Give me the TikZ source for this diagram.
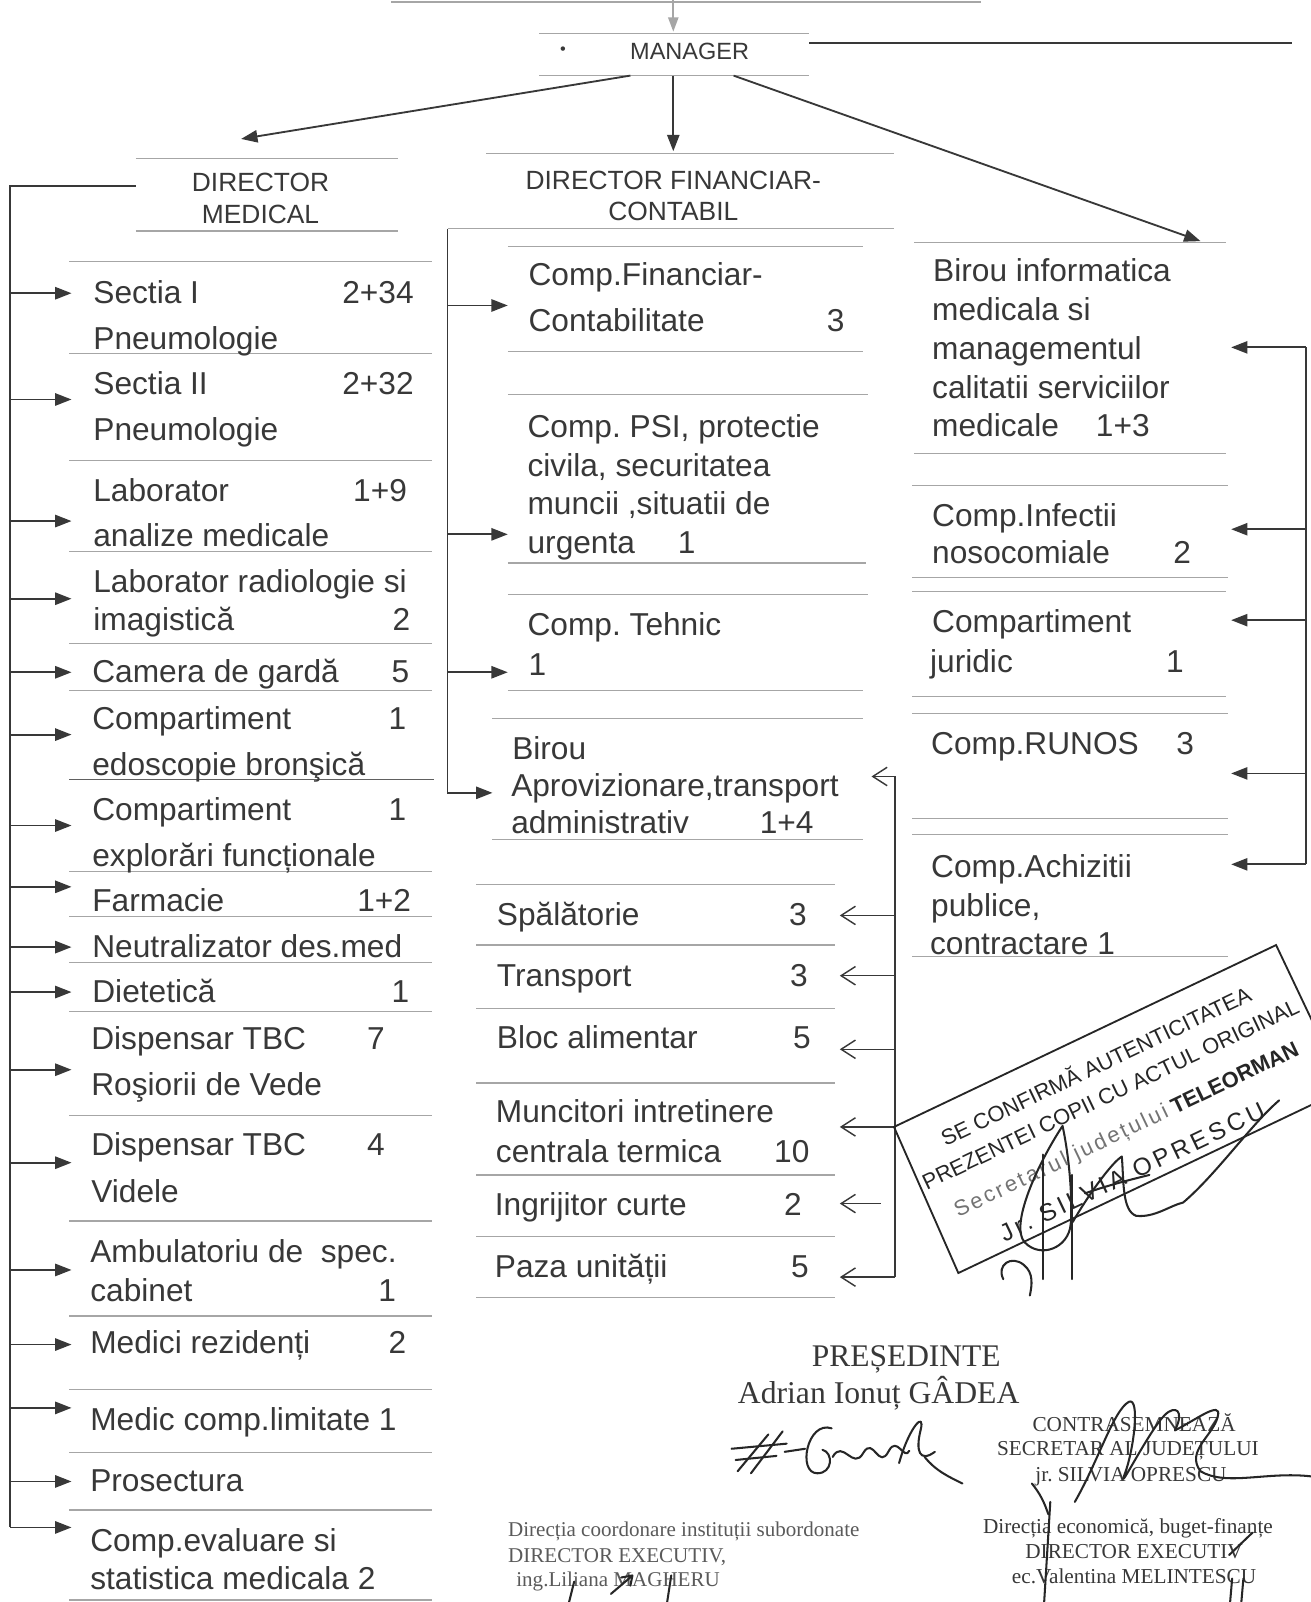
\documentclass[tikz,border=0pt]{standalone}
\usepackage{fontspec}
\setmainfont{Liberation Sans}
\newfontfamily\seriff{Liberation Serif}
\usetikzlibrary{arrows.meta}
\definecolor{ink}{HTML}{383838}
\definecolor{rule}{HTML}{A6A6A6}
\definecolor{faint}{HTML}{5A5A5A}
\newcommand\tl[4]{\node[txt] (#1) at (#2,#3) {#4};}
\newcommand\nm[4]{\node[num] (#1) at (#2,#3) {#4};}
\frenchspacing
\begin{document}
\begin{tikzpicture}[x=0.5pt,y=-0.5pt,
  txt/.style={anchor=base west,inner sep=0pt,text=ink,font=\fontsize{15.5}{18}\selectfont},
  num/.style={anchor=base,inner sep=0pt,text=ink,font=\fontsize{15.5}{18}\selectfont},
  hdr/.style={anchor=base,inner sep=0pt,text=ink,font=\fontsize{12.9}{15}\selectfont},
  sep/.style={draw=rule,line width=0.6pt},
  arr/.style={draw=ink,line width=0.9pt,-{Triangle[length=8pt,width=6pt]}},
  oarr/.style={draw=ink,line width=0.7pt,-{Straight Barb[length=7pt,width=9pt]}},
  bus/.style={draw=ink,line width=0.9pt},
  pen/.style={draw=black!85,line width=1pt,line cap=round,line join=round},
  ser/.style={anchor=base,inner sep=0pt,text=ink,font=\seriff\fontsize{10.4}{12}\selectfont},
  sml/.style={anchor=base west,inner sep=0pt,text=faint,font=\seriff\fontsize{10.3}{12}\selectfont},
  stmp/.style={inner sep=0pt,text=black!85,rotate=25.5,font=\fontsize{10.7}{12}\selectfont},
]
\useasboundingbox[fill=white] (0,0) rectangle (1283,1568);

% ---------- top ----------
\draw[rule,line width=0.8pt] (383,2) -- (960,2);
\coordinate (topA) at (659,0);
\coordinate (mgT) at (659,31);
\draw[draw=rule,line width=0.9pt,-{Triangle[length=7pt,width=5pt]},fill=rule] (topA) -- (mgT);
\draw[sep] (528,33) -- (792,33);
\draw[sep] (528,74) -- (792,74);
\node[inner sep=0pt,text=ink,font=\fontsize{8}{9}\selectfont] (bul) at (551,50) {\textbullet};
\node[hdr,font=\fontsize{11.5}{13}\selectfont] (mgr) at (675,58) {MANAGER};
\coordinate (mgR) at (792,42);
\coordinate (mgRend) at (1265,42);
\draw[ink,line width=1pt] (mgR) -- (mgRend);

% ---------- headers ----------
\draw[sep] (133,155) -- (390,155);
\draw[sep] (133,226) -- (390,226);
\node[hdr] (dm1) at (255,187) {DIRECTOR};
\node[hdr] (dm2) at (255,219) {MEDICAL};
\draw[sep] (476,150) -- (875,150);
\draw[sep] (438,224) -- (875,224);
\node[hdr] (df1) at (659,185) {DIRECTOR FINANCIAR-};
\node[hdr] (df2) at (659,216) {CONTABIL};

\coordinate (mg1) at (617,74);  \coordinate (dmT) at (236,136);
\coordinate (mg2) at (659,74);  \coordinate (dfT) at (659,148);
\coordinate (mg3) at (718,74);  \coordinate (biT) at (1175,236);
\draw[arr] (mg1) -- (dmT);
\draw[arr] (mg2) -- (dfT);
\draw[arr] (mg3) -- (biT);

% ---------- left column separators ----------
\foreach \yy in {256,346,451,540,630,676,853,897,942,990,1092,1195,1288,1360,1422,1478,1566}
  \draw[sep] (68,\yy) -- (423,\yy);
\draw[draw=ink!80,line width=0.7pt] (68,763) -- (425,763);

% left bus + arrows
\coordinate (dmL) at (133,182);
\coordinate (lcorner) at (10,182);
\foreach \n/\yy in {1/287,2/391,3/510,4/586,5/658,6/719,7/808,8/868,9/927,10/971,11/1047,12/1138,13/1243,14/1316,15/1378,16/1450,17/1495}{
  \coordinate (lbus\n) at (10,\yy);
  \coordinate (ltip\n) at (70,\yy);
  \draw[arr] (lbus\n) -- (ltip\n);
}
\draw[bus] (dmL) -- (lcorner) -- (lbus17);

% left texts
\tl{a1}{91}{297}{Sectia I}            \nm{a1n}{370}{297}{2+34}
\tl{a2}{91}{342}{Pneumologie}
\tl{b1}{91}{386}{Sectia II}           \nm{b1n}{370}{386}{2+32}
\tl{b2}{91}{431}{Pneumologie}
\tl{c1}{91}{491}{Laborator}           \nm{c1n}{372}{491}{1+9}
\tl{c2}{91}{535}{analize medicale}
\tl{d1}{91}{580}{Laborator radiologie si}
\tl{d2}{91}{617}{imagistică}          \nm{d2n}{393}{617}{2}
\tl{e1}{90}{668}{Camera de gardă}     \nm{e1n}{392}{668}{5}
\tl{f1}{90}{714}{Compartiment}        \nm{f1n}{389}{714}{1}
\tl{f2}{90}{759}{edoscopie bronşică}
\tl{g1}{90}{803}{Compartiment}        \nm{g1n}{389}{803}{1}
\tl{g2}{90}{848}{explorări funcționale}
\tl{h1}{90}{892}{Farmacie}            \nm{h1n}{376}{892}{1+2}
\tl{i1}{90}{937}{Neutralizator des.med}
\tl{j1}{90}{981}{Dietetică}           \nm{j1n}{392}{981}{1}
\tl{k1}{89}{1027}{Dispensar TBC}      \nm{k1n}{368}{1027}{7}
\tl{k2}{89}{1072}{Roşiorii de Vede}
\tl{m1}{89}{1131}{Dispensar TBC}      \nm{m1n}{368}{1131}{4}
\tl{m2}{89}{1177}{Videle}
\tl{n1}{88}{1236}{Ambulatoriu de\ \ spec.}
\tl{n2}{88}{1274}{cabinet}            \nm{n2n}{379}{1274}{1}
\tl{o1}{88}{1325}{Medici rezidenți}   \nm{o1n}{389}{1325}{2}
\tl{p1}{88}{1400}{Medic comp.limitate 1}
\tl{q1}{88}{1460}{Prosectura}
\tl{r1}{88}{1519}{Comp.evaluare si}
\tl{r2}{88}{1556}{statistica medicala 2}

% ---------- middle column ----------
\draw[sep] (497,241) -- (845,241);
\draw[sep] (497,344) -- (845,344);
\draw[sep] (497,386) -- (850,386);
\draw[sep] (497,551) -- (848,551);
\draw[sep] (497,582) -- (850,582);
\draw[sep] (497,676) -- (845,676);
\draw[sep] (482,703) -- (845,703);
\draw[sep] (482,822) -- (845,822);
\foreach \yy in {866,925,987,1060,1150,1210,1270}
  \draw[sep] (466,\yy) -- (817,\yy);

\coordinate (mtop) at (438,224);
\coordinate (mtip1) at (497,299);
\coordinate (mtip2) at (497,523);
\coordinate (mtip3) at (497,658);
\coordinate (mtip4) at (482,776);
\draw[arr] (mtop) |- (mtip4);
\draw[arr] (mtop |- mtip1) -- (mtip1);
\draw[arr] (mtop |- mtip2) -- (mtip2);
\draw[arr] (mtop |- mtip3) -- (mtip3);

\tl{s1}{517}{279}{Comp.Financiar-}
\tl{s2}{517}{324}{Contabilitate}      \nm{s2n}{818}{324}{3}
\tl{t1}{516}{428}{Comp. PSI, protectie}
\tl{t2}{516}{466}{civila, securitatea}
\tl{t3}{516}{504}{muncii ,situatii de}
\tl{t4}{516}{542}{urgenta}            \nm{t4n}{672}{542}{1}
\tl{u1}{516}{622}{Comp. Tehnic}
\tl{u2}{517}{661}{1}
\tl{v1}{501}{743}{Birou}
\tl{v2}{500}{780}{Aprovizionare,transport}
\tl{v3}{500}{816}{administrativ}      \nm{v3n}{770}{816}{1+4}
\tl{w1}{486}{906}{Spălătorie}         \nm{w1n}{781}{906}{3}
\tl{w2}{486}{966}{Transport}          \nm{w2n}{782}{966}{3}
\tl{w3}{486}{1026}{Bloc alimentar}    \nm{w3n}{785}{1026}{5}
\tl{w4}{485}{1099}{Muncitori intretinere}
\tl{w5}{485}{1138}{centrala termica}  \nm{w5n}{775}{1138}{10}
\tl{w6}{484}{1190}{Ingrijitor curte}  \nm{w6n}{776}{1190}{2}
\tl{w7}{484}{1250}{Paza unității}     \nm{w7n}{783}{1250}{5}

% services bracket
\coordinate (sb0) at (876,760);   \coordinate (st0) at (853,760);
\coordinate (sb1) at (876,896);   \coordinate (st1) at (822,896);
\coordinate (sb2) at (876,955);   \coordinate (st2) at (822,955);
\coordinate (sb3) at (876,1027);  \coordinate (st3) at (822,1027);
\coordinate (sb4) at (876,1103);  \coordinate (st4) at (822,1103);
\coordinate (sb5) at (862,1178);  \coordinate (st5) at (822,1178);
\coordinate (sb6) at (876,1250);  \coordinate (st6) at (822,1250);
\draw[bus] (sb0) -- (sb6);
\foreach \n in {0,...,6} \draw[oarr] (sb\n) -- (st\n);

% ---------- right column ----------
\draw[sep] (895,237) -- (1200,237);
\draw[sep] (895,444) -- (1200,444);
\draw[sep] (893,475) -- (1202,475);
\draw[sep] (893,565) -- (1202,565);
\draw[sep] (893,579) -- (1200,579);
\draw[sep] (893,682) -- (1200,682);
\draw[sep] (893,698) -- (1202,698);
\draw[sep] (893,801) -- (1202,801);
\draw[sep] (893,817) -- (1202,817);
\draw[sep] (893,936) -- (1202,936);

\foreach \n/\yy in {1/340,2/518,3/607,4/757,5/846}{
  \coordinate (rb\n) at (1278,\yy);
  \coordinate (rt\n) at (1205,\yy);
  \draw[arr] (rb\n) -- (rt\n);
}
\draw[bus] (rb1) -- (rb5);

\tl{x1}{913}{276}{Birou informatica}
\tl{x2}{912}{314}{medicala si}
\tl{x3}{912}{352}{managementul}
\tl{x4}{912}{390}{calitatii serviciilor}
\tl{x5}{912}{427}{medicale}           \nm{x5n}{1099}{427}{1+3}
\tl{y1}{912}{515}{Comp.Infectii}
\tl{y2}{912}{552}{nosocomiale}        \nm{y2n}{1157}{552}{2}
\tl{z1}{912}{619}{Compartiment}
\tl{z2}{910}{658}{juridic}            \nm{z2n}{1150}{658}{1}
\tl{q2}{911}{738}{Comp.RUNOS}         \nm{q2n}{1160}{738}{3}
\tl{h2}{911}{859}{Comp.Achizitii}
\tl{h3}{911}{897}{publice,}
\tl{h4}{910}{934}{contractare 1}

% ---------- stamp ----------
\draw[black!85,line width=0.9pt] (875,1103) -- (1249,925) -- (1316,1066) -- (938,1246) -- cycle;
\node[stmp] (st1t) at (1072,1042) {SE CONFIRMĂ AUTENTICITATEA};
\node[stmp] (st2t) at (1087,1071) {PREZENTEI COPII CU ACTUL ORIGINAL};
\node[stmp] (st3t) at (1103,1107) {{\addfontfeature{LetterSpace=12}\color{black!55}Secretarul județului} \textbf{TELEORMAN}};
\node[stmp,font=\fontsize{12}{13}\selectfont] (st4t) at (1108,1147) {\addfontfeature{LetterSpace=15}Jr. SILVIA OPRESCU};

% stamp signature
\draw[pen] (1040,1102) .. controls (1015,1140) and (988,1200) .. (1003,1216) .. controls (1018,1232) and (1046,1222) .. (1048,1198) .. controls (1050,1170) and (1046,1130) .. (1040,1102);
\draw[pen] (1021,1130) -- (1021,1252);
\draw[pen] (1049,1150) -- (1049,1252);
\draw[pen] (1050,1196) .. controls (1065,1170) and (1088,1138) .. (1098,1132) .. controls (1100,1155) and (1098,1185) .. (1112,1190) .. controls (1130,1192) and (1145,1180) .. (1158,1177) .. controls (1190,1150) and (1225,1100) .. (1252,1077);
\draw[pen] (1062,1168) .. controls (1085,1160) and (1105,1155) .. (1125,1150);
\draw[pen] (982,1252) .. controls (975,1238) and (990,1228) .. (1002,1238) .. controls (1012,1246) and (1010,1258) .. (1008,1268);

% ---------- signatures block ----------
\node[ser,font=\seriff\fontsize{15.4}{17}\selectfont] (pres) at (887,1337) {PREȘEDINTE};
\node[ser,font=\seriff\fontsize{15.5}{17}\selectfont] (presn) at (860,1374) {Adrian Ionuț GÂDEA};
\node[ser] (cs1) at (1110,1401) {CONTRASEMNEAZĂ};
\node[ser] (cs2) at (1104,1425) {SECRETAR AL JUDEȚULUI};
\node[ser] (cs3) at (1107,1450) {jr. SILVIA OPRESCU};
\node[ser] (de1) at (1104,1501) {Direcția economică, buget-finanțe};
\node[ser] (de2) at (1110,1525) {DIRECTOR EXECUTIV};
\node[ser] (de3) at (1110,1550) {ec.Valentina MELINTESCU};
\node[sml] (dc1) at (497,1504) {Direcția coordonare instituții subordonate};
\node[sml] (dc2) at (497,1529) {DIRECTOR EXECUTIV,};
\node[sml] (dc3) at (505,1553) {ing.Liliana MAGHERU};

% president signature
\draw[pen] (722,1440) -- (752,1404);
\draw[pen] (735,1442) -- (766,1401);
\draw[pen] (716,1418) -- (770,1413);
\draw[pen] (720,1429) -- (760,1425);
\draw[pen] (768,1421) -- (788,1418);
\draw[pen] (814,1398) .. controls (790,1390) and (780,1442) .. (800,1442) .. controls (815,1442) and (816,1422) .. (805,1419);
\draw[pen] (815,1426) .. controls (825,1408) and (835,1440) .. (845,1422) .. controls (855,1405) and (860,1440) .. (870,1420) .. controls (878,1405) and (885,1430) .. (890,1420);
\draw[pen] (880,1432) .. controls (890,1396) and (906,1380) .. (901,1400) .. controls (896,1420) and (900,1432) .. (915,1421);
\draw[pen] (905,1426) .. controls (916,1440) and (930,1446) .. (942,1452);

% secretary signature
\draw[pen] (1052,1470) .. controls (1075,1430) and (1090,1380) .. (1105,1372) .. controls (1116,1367) and (1110,1420) .. (1100,1445) .. controls (1095,1460) and (1125,1400) .. (1140,1385) .. controls (1150,1375) and (1160,1380) .. (1150,1400);
\draw[pen] (1150,1400) .. controls (1170,1390) and (1196,1370) .. (1192,1386) .. controls (1188,1405) and (1160,1420) .. (1175,1440) .. controls (1200,1455) and (1240,1440) .. (1283,1445);
\draw[pen] (1010,1452) .. controls (1018,1462) and (1022,1470) .. (1026,1482);
\draw[pen] (1028,1470) -- (1022,1568);
\draw[pen] (1203,1522) -- (1226,1500);
\draw[pen] (1206,1545) -- (1204,1568);
\draw[pen] (1217,1545) -- (1215,1568);

% bottom-left marks
\draw[pen] (562,1548) -- (557,1568);
\draw[pen] (598,1560) -- (618,1543);
\draw[pen] (608,1544) -- (619,1542) -- (617,1552);
\draw[pen] (657,1542) -- (653,1568);
\end{tikzpicture}
\end{document}
